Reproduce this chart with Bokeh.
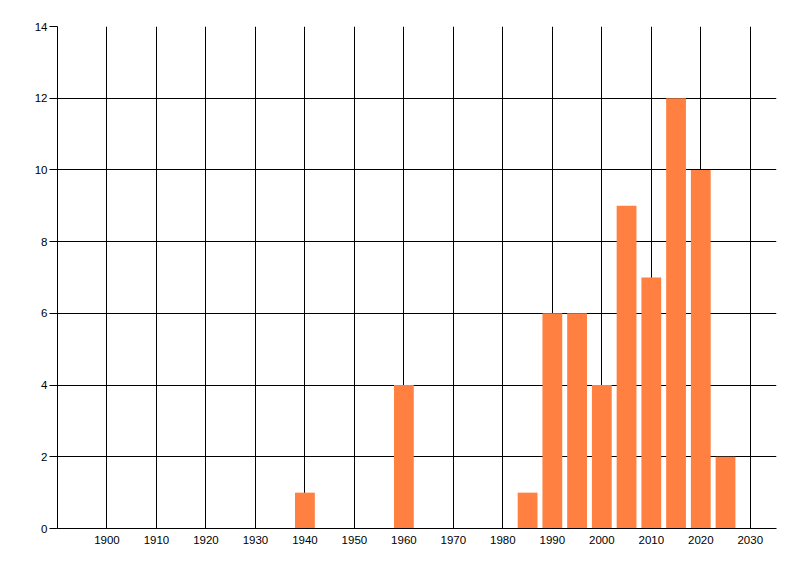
from bokeh.plotting import figure
from bokeh.models import FixedTicker, Range1d
from bokeh.embed import file_html
from bokeh.resources import INLINE

FONT = 'Liberation Sans'

# DATA
years = [1940, 1960, 1985, 1990, 1995, 2000, 2005, 2010, 2015, 2020, 2025]
counts = [1, 4, 1, 6, 6, 4, 9, 7, 12, 10, 2]
x_ticks = [1900, 1910, 1920, 1930, 1940, 1950, 1960, 1970, 1980, 1990, 2000, 2010, 2020, 2030]
y_ticks = [0, 2, 4, 6, 8, 10, 12, 14]

data = {
    'Year': years,
    'Count': counts
}

p = figure(
    width=800,
    height=576,
    x_range=Range1d(1890, 2035.3),
    y_range=Range1d(0, 14),
    toolbar_location=None,
    tools='',
    output_backend='svg',
    min_border_left=57,
    min_border_right=24,
    min_border_top=26,
    min_border_bottom=48,
)

p.vbar(
    source=data,
    x='Year',
    top='Count',
    width=4,
    color='#FF8040',
    line_color=None
)

p.outline_line_color = None
p.background_fill_color = 'white'
p.border_fill_color = 'white'

# grid: plain black lines
p.grid.grid_line_color = 'black'
p.grid.grid_line_alpha = 1
p.grid.grid_line_width = 1

p.xaxis.ticker = FixedTicker(ticks=x_ticks)
p.yaxis.ticker = FixedTicker(ticks=y_ticks)
p.xgrid.ticker = FixedTicker(ticks=x_ticks)
p.ygrid.ticker = FixedTicker(ticks=y_ticks)

p.axis.axis_line_color = 'black'
p.axis.minor_tick_line_color = None
p.axis.major_tick_in = 0
p.yaxis.major_tick_out = 8
p.xaxis.major_tick_out = 0
p.yaxis.major_label_standoff = 2
p.xaxis.major_label_standoff = 7
p.axis.major_tick_line_color = 'black'

p.axis.major_label_text_font = FONT
p.axis.major_label_text_font_size = '11.5px'
p.axis.major_label_text_color = 'black'

open("out.html", "w").write(file_html(p, INLINE))
